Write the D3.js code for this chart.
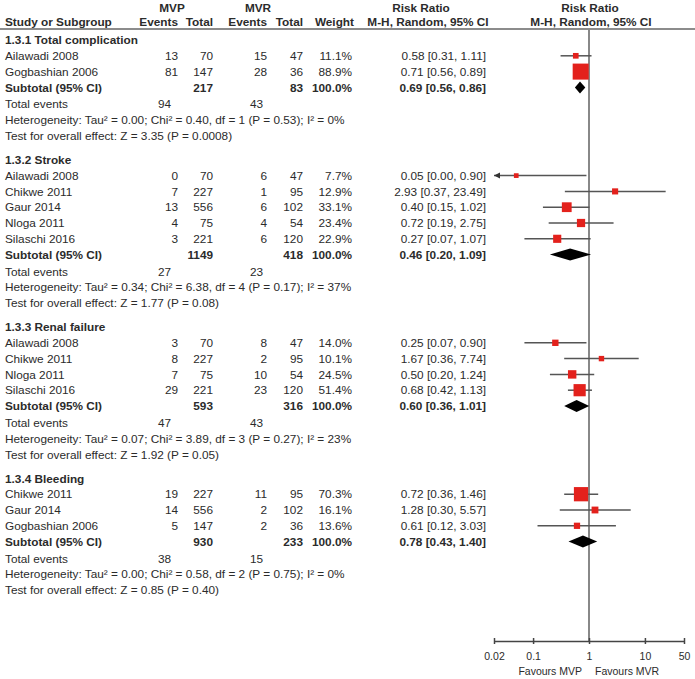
<!DOCTYPE html>
<html>
<head>
<meta charset="utf-8">
<script src="https://cdn.jsdelivr.net/npm/d3@7"></script>
<style>
  html, body { margin: 0; padding: 0; background: #fff; }
  svg text { font-family: "Liberation Sans", Arial, sans-serif; fill: #2b2b2b; }
</style>
</head>
<body>
<svg id="chart" width="695" height="679"></svg>
<script>
// ---------------- DATA ----------------
const subgroupTitles = ["1.3.1 Total complication", "1.3.2 Stroke", "1.3.3 Renal failure", "1.3.4 Bleeding"];

const studyNames = [
  ["Ailawadi 2008", "Gogbashian 2006"],
  ["Ailawadi 2008", "Chikwe 2011", "Gaur 2014", "Nloga 2011", "Silaschi 2016"],
  ["Ailawadi 2008", "Chikwe 2011", "Nloga 2011", "Silaschi 2016"],
  ["Chikwe 2011", "Gaur 2014", "Gogbashian 2006"]
];
const mvpEvents = [[13, 81], [0, 7, 13, 4, 3], [3, 8, 7, 29], [19, 14, 5]];
const mvpTotal  = [[70, 147], [70, 227, 556, 75, 221], [70, 227, 75, 221], [227, 556, 147]];
const mvrEvents = [[15, 28], [6, 1, 6, 4, 6], [8, 2, 10, 23], [11, 2, 2]];
const mvrTotal  = [[47, 36], [47, 95, 102, 54, 120], [47, 95, 54, 120], [95, 102, 36]];
const weights   = [[11.1, 88.9], [7.7, 12.9, 33.1, 23.4, 22.9], [14.0, 10.1, 24.5, 51.4], [70.3, 16.1, 13.6]];
const rrEst     = [[0.58, 0.71], [0.05, 2.93, 0.40, 0.72, 0.27], [0.25, 1.67, 0.50, 0.68], [0.72, 1.28, 0.61]];
const rrLow     = [[0.31, 0.56], [0.00, 0.37, 0.15, 0.19, 0.07], [0.07, 0.36, 0.20, 0.42], [0.36, 0.30, 0.12]];
const rrHigh    = [[1.11, 0.89], [0.90, 23.49, 1.02, 2.75, 1.07], [0.90, 7.74, 1.24, 1.13], [1.46, 5.57, 3.03]];

const subTotalMVP = [217, 1149, 593, 930];
const subTotalMVR = [83, 418, 316, 233];
const subRR   = [0.69, 0.46, 0.60, 0.78];
const subLow  = [0.56, 0.20, 0.36, 0.43];
const subHigh = [0.86, 1.09, 1.01, 1.40];
const totalEventsMVP = [94, 27, 47, 38];
const totalEventsMVR = [43, 23, 43, 15];
const tau2 = [0.00, 0.34, 0.07, 0.00];
const chi2 = [0.40, 6.38, 3.89, 0.58];
const dfHet = [1, 4, 3, 2];
const pHet = [0.53, 0.17, 0.27, 0.75];
const i2 = [0, 37, 23, 0];
const zVal = [3.35, 1.77, 1.92, 0.85];
const pZ = ["0.0008", "0.08", "0.05", "0.40"];

const tickValues = [0.02, 0.1, 1, 10, 50];
const tickLabels = ["0.02", "0.1", "1", "10", "50"];

// ---------------- LAYOUT ----------------
const svg = d3.select("#chart");
const FS = 11.8;
const col = { name: 5, mvpE: 178, mvpT: 213, mvrE: 267, mvrT: 303, w: 352, rr: 486 };
const headerLineY = 29;
const axisY = 641;
const x = d3.scaleLog().domain([0.02, 50]).range([494, 684]);
const f2 = d3.format(".2f"), f1 = d3.format(".1f");
const red = "#e3211c";
const lineCol = "#555";

function txt(xp, yp, s, opts = {}) {
  return svg.append("text")
    .attr("x", xp).attr("y", yp).attr("dy", "0.35em")
    .attr("font-size", opts.fs || FS)
    .attr("font-weight", opts.bold ? "bold" : "normal")
    .attr("text-anchor", opts.anchor || "start")
    .text(s);
}

// Header
txt(172, 8, "MVP", { bold: true, anchor: "middle" });
txt(258, 8, "MVR", { bold: true, anchor: "middle" });
txt(421, 8, "Risk Ratio", { bold: true, anchor: "middle" });
txt(590, 8, "Risk Ratio", { bold: true, anchor: "middle" });
txt(5, 22, "Study or Subgroup", { bold: true });
txt(col.mvpE, 22, "Events", { bold: true, anchor: "end" });
txt(col.mvpT, 22, "Total", { bold: true, anchor: "end" });
txt(col.mvrE, 22, "Events", { bold: true, anchor: "end" });
txt(col.mvrT, 22, "Total", { bold: true, anchor: "end" });
txt(col.w + 2, 22, "Weight", { bold: true, anchor: "end" });
txt(428, 22, "M-H, Random, 95% CI", { bold: true, anchor: "middle" });
txt(591, 22, "M-H, Random, 95% CI", { bold: true, anchor: "middle" });

svg.append("line").attr("x1", 0).attr("x2", 695)
  .attr("y1", headerLineY).attr("y2", headerLineY)
  .attr("stroke", "#666").attr("stroke-width", 1.5);

// Null line
svg.append("line").attr("x1", x(1)).attr("x2", x(1))
  .attr("y1", headerLineY).attr("y2", axisY)
  .attr("stroke", "#888").attr("stroke-width", 2);

// Rows
const rowH = 15.8, gapTE = 1, gapSection = 24;
let y = 40;
subgroupTitles.forEach((title, g) => {
  txt(col.name, y, title, { bold: true });
  studyNames[g].forEach((nm, i) => {
    y += rowH;
    txt(col.name, y, nm);
    txt(col.mvpE, y, mvpEvents[g][i], { anchor: "end" });
    txt(col.mvpT, y, mvpTotal[g][i], { anchor: "end" });
    txt(col.mvrE, y, mvrEvents[g][i], { anchor: "end" });
    txt(col.mvrT, y, mvrTotal[g][i], { anchor: "end" });
    txt(col.w, y, f1(weights[g][i]) + "%", { anchor: "end" });
    txt(col.rr, y, `${f2(rrEst[g][i])} [${f2(rrLow[g][i])}, ${f2(rrHigh[g][i])}]`, { anchor: "end" });
    const [dMin, dMax] = x.domain();
    const lo = Math.max(rrLow[g][i], dMin), hi = Math.min(rrHigh[g][i], dMax);
    svg.append("line").attr("x1", x(lo)).attr("x2", x(hi))
      .attr("y1", y).attr("y2", y).attr("stroke", lineCol).attr("stroke-width", 1.5);
    if (rrLow[g][i] < dMin) {
      const ax = x(dMin);
      svg.append("path").attr("d", `M${ax},${y} L${ax + 6},${y - 3} L${ax + 6},${y + 3} Z`).attr("fill", "#333");
    }
    const s = Math.max(3.5, 1.7 * Math.sqrt(weights[g][i]));
    svg.append("rect").attr("x", x(rrEst[g][i]) - s / 2).attr("y", y - s / 2)
      .attr("width", s).attr("height", s).attr("fill", red);
  });
  y += rowH;
  txt(col.name, y, "Subtotal (95% CI)", { bold: true });
  txt(col.mvpT, y, subTotalMVP[g], { bold: true, anchor: "end" });
  txt(col.mvrT, y, subTotalMVR[g], { bold: true, anchor: "end" });
  txt(col.w, y, "100.0%", { bold: true, anchor: "end" });
  txt(col.rr, y, `${f2(subRR[g])} [${f2(subLow[g])}, ${f2(subHigh[g])}]`, { bold: true, anchor: "end" });
  const hh = 6;
  svg.append("path")
    .attr("d", `M${x(subLow[g])},${y} L${x(subRR[g])},${y - hh} L${x(subHigh[g])},${y} L${x(subRR[g])},${y + hh} Z`)
    .attr("fill", "#000");
  y += rowH + gapTE;
  txt(col.name, y, "Total events");
  txt(col.mvpE - 7, y, totalEventsMVP[g], { anchor: "end" });
  txt(col.mvrE - 4, y, totalEventsMVR[g], { anchor: "end" });
  y += rowH;
  txt(col.name, y, `Heterogeneity: Tau² = ${f2(tau2[g])}; Chi² = ${f2(chi2[g])}, df = ${dfHet[g]} (P = ${f2(pHet[g])}); I² = ${i2[g]}%`);
  y += rowH;
  txt(col.name, y, `Test for overall effect: Z = ${f2(zVal[g])} (P = ${pZ[g]})`);
  y += gapSection;
});

// Axis
const axis = d3.axisBottom(x).tickValues(tickValues)
  .tickFormat((d, i) => tickLabels[i]).tickSize(3).tickSizeOuter(0);
const ag = svg.append("g").attr("transform", `translate(0,${axisY})`).call(axis);
ag.select(".domain").attr("stroke", "#444").attr("stroke-width", 1.5);
ag.selectAll(".tick line").attr("stroke", "#444").attr("stroke-width", 1.5).attr("y1", -3).attr("y2", 3);
ag.selectAll(".tick text").attr("font-size", 10.5).attr("font-family", "Liberation Sans, Arial, sans-serif")
  .attr("fill", "#2b2b2b").attr("y", 12);

txt(x(1) - 7, 671, "Favours MVP", { fs: 10.5, anchor: "end" });
txt(x(1) + 6, 671, "Favours MVR", { fs: 10.5 });
</script>
</body>
</html>
